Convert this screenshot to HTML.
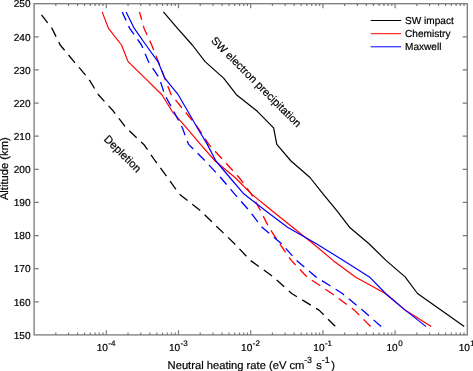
<!DOCTYPE html>
<html><head><meta charset="utf-8"><title>Neutral heating rate</title>
<style>html,body{margin:0;padding:0;background:#fff}svg{display:block}</style></head>
<body>
<svg width="473" height="371" viewBox="0 0 473 371" font-family="'Liberation Sans', sans-serif" fill="#000" stroke="#000" stroke-width="0.2" text-rendering="geometricPrecision">
<rect width="473" height="371" fill="#fff" stroke="none"/>
<path d="M55.83 334.9v-2.4M55.83 3.7v2.4M68.55 334.9v-2.4M68.55 3.7v2.4M77.57 334.9v-2.4M77.57 3.7v2.4M84.57 334.9v-2.4M84.57 3.7v2.4M90.28 334.9v-2.4M90.28 3.7v2.4M95.12 334.9v-2.4M95.12 3.7v2.4M99.30 334.9v-2.4M99.30 3.7v2.4M103.00 334.9v-2.4M103.00 3.7v2.4M106.30 334.9v-4.6M106.30 3.7v4.6M128.03 334.9v-2.4M128.03 3.7v2.4M140.75 334.9v-2.4M140.75 3.7v2.4M149.77 334.9v-2.4M149.77 3.7v2.4M156.77 334.9v-2.4M156.77 3.7v2.4M162.48 334.9v-2.4M162.48 3.7v2.4M167.32 334.9v-2.4M167.32 3.7v2.4M171.50 334.9v-2.4M171.50 3.7v2.4M175.20 334.9v-2.4M175.20 3.7v2.4M178.50 334.9v-4.6M178.50 3.7v4.6M200.23 334.9v-2.4M200.23 3.7v2.4M212.95 334.9v-2.4M212.95 3.7v2.4M221.97 334.9v-2.4M221.97 3.7v2.4M228.97 334.9v-2.4M228.97 3.7v2.4M234.68 334.9v-2.4M234.68 3.7v2.4M239.52 334.9v-2.4M239.52 3.7v2.4M243.70 334.9v-2.4M243.70 3.7v2.4M247.40 334.9v-2.4M247.40 3.7v2.4M250.70 334.9v-4.6M250.70 3.7v4.6M272.43 334.9v-2.4M272.43 3.7v2.4M285.15 334.9v-2.4M285.15 3.7v2.4M294.17 334.9v-2.4M294.17 3.7v2.4M301.17 334.9v-2.4M301.17 3.7v2.4M306.88 334.9v-2.4M306.88 3.7v2.4M311.72 334.9v-2.4M311.72 3.7v2.4M315.90 334.9v-2.4M315.90 3.7v2.4M319.60 334.9v-2.4M319.60 3.7v2.4M322.90 334.9v-4.6M322.90 3.7v4.6M344.63 334.9v-2.4M344.63 3.7v2.4M357.35 334.9v-2.4M357.35 3.7v2.4M366.37 334.9v-2.4M366.37 3.7v2.4M373.37 334.9v-2.4M373.37 3.7v2.4M379.08 334.9v-2.4M379.08 3.7v2.4M383.92 334.9v-2.4M383.92 3.7v2.4M388.10 334.9v-2.4M388.10 3.7v2.4M391.80 334.9v-2.4M391.80 3.7v2.4M395.10 334.9v-4.6M395.10 3.7v4.6M416.83 334.9v-2.4M416.83 3.7v2.4M429.55 334.9v-2.4M429.55 3.7v2.4M438.57 334.9v-2.4M438.57 3.7v2.4M445.57 334.9v-2.4M445.57 3.7v2.4M451.28 334.9v-2.4M451.28 3.7v2.4M456.12 334.9v-2.4M456.12 3.7v2.4M460.30 334.9v-2.4M460.30 3.7v2.4M464.00 334.9v-2.4M464.00 3.7v2.4M34.1 36.82h4.6M467.3 36.82h-4.6M34.1 69.94h4.6M467.3 69.94h-4.6M34.1 103.06h4.6M467.3 103.06h-4.6M34.1 136.18h4.6M467.3 136.18h-4.6M34.1 169.30h4.6M467.3 169.30h-4.6M34.1 202.42h4.6M467.3 202.42h-4.6M34.1 235.54h4.6M467.3 235.54h-4.6M34.1 268.66h4.6M467.3 268.66h-4.6M34.1 301.78h4.6M467.3 301.78h-4.6" stroke="#7a7a7a" stroke-width="1.2" fill="none"/>
<rect x="34.1" y="3.7" width="433.20" height="331.20" fill="none" stroke="#7a7a7a" stroke-width="1.3"/>
<g fill="none" stroke-linejoin="round">
<polyline points="41.5,14.9 52.0,28.4 60.2,45.0 74.0,61.6 88.2,78.1 98.4,94.7 113.5,111.3 126.0,127.8 143.8,144.4 155.3,161.0 167.5,177.5 179.4,194.1 200.4,210.7 217.4,227.2 234.6,243.8 250.4,260.4 273.3,276.9 291.7,293.5 319.0,310.1 335.5,326.6" stroke="#000" stroke-width="1.3" stroke-dasharray="10.1 6.14" stroke-dashoffset="0.1"/>
<polyline points="163.4,11.9 177.5,28.4 192.3,45.0 205.1,61.6 223.6,78.1 236.4,94.7 257.3,111.3 273.6,127.8 276.8,144.4 291.0,161.0 310.0,177.5 323.2,194.1 336.8,210.7 349.5,227.2 369.0,243.8 386.0,260.4 405.1,276.9 417.5,293.5 440.9,310.1 464.2,326.6" stroke="#000" stroke-width="1.2"/>
<polyline points="102.1,11.9 108.5,28.4 121.5,45.0 128.1,61.6 145.0,78.1 161.9,94.7 172.1,111.3 186.5,127.8 200.5,144.4 215.2,161.0 235.0,177.5 251.6,194.1 272.0,210.7 292.6,227.2 313.2,243.8 333.0,260.4 355.3,276.9 385.3,293.5 405.0,310.1 431.2,326.6" stroke="#f00" stroke-width="1.2"/>
<polyline points="139.5,11.9 144.1,28.4 151.7,45.0 158.3,61.6 164.6,78.1 171.2,94.7 184.8,111.3 198.0,127.8 208.8,144.4 224.0,161.0 239.1,177.5 251.3,194.1 260.5,210.7 268.8,227.2 279.7,243.8 291.2,260.4 307.0,276.9 331.8,293.5 354.3,310.1 370.6,326.6" stroke="#f00" stroke-width="1.3" stroke-dasharray="10.1 6.14" stroke-dashoffset="1.9"/>
<polyline points="126.1,11.9 134.3,28.4 145.9,45.0 157.9,61.6 164.8,78.1 178.2,94.7 187.8,111.3 197.3,127.8 207.3,144.4 215.9,161.0 229.8,177.5 244.0,194.1 265.6,210.7 287.5,227.2 316.4,243.8 343.4,260.4 369.4,276.9 385.6,293.5 405.3,310.1 426.1,326.6" stroke="#00f" stroke-width="1.2"/>
<polyline points="122.2,11.9 129.7,28.4 141.5,45.0 148.4,61.6 159.3,78.1 164.7,94.7 173.7,111.3 182.3,127.8 188.6,144.4 205.3,161.0 220.6,177.5 234.7,194.1 249.3,210.7 262.0,227.2 281.5,243.8 296.6,260.4 316.0,276.9 342.3,293.5 362.4,310.1 381.2,326.6" stroke="#00f" stroke-width="1.3" stroke-dasharray="10.1 6.14" stroke-dashoffset="0.8"/>
<path d="M370.8 20.5H401.1" stroke="#000" stroke-width="1"/>
<path d="M370.8 33.7H401.1" stroke="#f00" stroke-width="1"/>
<path d="M370.8 46.8H401.1" stroke="#00f" stroke-width="1"/>
</g>
<text x="405.0" y="24.0" font-size="10.1" text-anchor="start">SW impact</text>
<text x="405.0" y="37.2" font-size="10.1" text-anchor="start">Chemistry</text>
<text x="405.0" y="50.3" font-size="10.1" text-anchor="start">Maxwell</text>
<text x="30.6" y="7.4" font-size="10.1" text-anchor="end">250</text>
<text x="30.6" y="40.5" font-size="10.1" text-anchor="end">240</text>
<text x="30.6" y="73.6" font-size="10.1" text-anchor="end">230</text>
<text x="30.6" y="106.8" font-size="10.1" text-anchor="end">220</text>
<text x="30.6" y="139.9" font-size="10.1" text-anchor="end">210</text>
<text x="30.6" y="173.0" font-size="10.1" text-anchor="end">200</text>
<text x="30.6" y="206.1" font-size="10.1" text-anchor="end">190</text>
<text x="30.6" y="239.2" font-size="10.1" text-anchor="end">180</text>
<text x="30.6" y="272.4" font-size="10.1" text-anchor="end">170</text>
<text x="30.6" y="305.5" font-size="10.1" text-anchor="end">160</text>
<text x="30.6" y="338.6" font-size="10.1" text-anchor="end">150</text>
<text x="96.7" y="351.4" font-size="10.1" text-anchor="start">10<tspan font-size="8" dy="-5.5" dx="0.4">-4</tspan></text>
<text x="168.9" y="351.4" font-size="10.1" text-anchor="start">10<tspan font-size="8" dy="-5.5" dx="0.4">-3</tspan></text>
<text x="241.1" y="351.4" font-size="10.1" text-anchor="start">10<tspan font-size="8" dy="-5.5" dx="0.4">-2</tspan></text>
<text x="313.3" y="351.4" font-size="10.1" text-anchor="start">10<tspan font-size="8" dy="-5.5" dx="0.4">-1</tspan></text>
<text x="386.5" y="351.4" font-size="10.1" text-anchor="start">10<tspan font-size="8" dy="-5.5" dx="0.4">0</tspan></text>
<text x="458.7" y="351.4" font-size="10.1" text-anchor="start">10<tspan font-size="8" dy="-5.5" dx="0.4">1</tspan></text>
<text x="167.6" y="368.6" font-size="11.2" text-anchor="start">Neutral heating rate (eV cm<tspan font-size="8.8" x="304.2" dy="-5.5">-3</tspan><tspan x="316.2" dy="5.5">s</tspan><tspan font-size="8.8" x="321.8" dy="-5.5">-1</tspan><tspan x="331.2" dy="5.5">)</tspan></text>
<text font-size="11.2" transform="translate(8.1 168.7) rotate(-90)" text-anchor="middle">Altitude (km)</text>
<text font-size="11" transform="translate(210.4 41.3) rotate(45)">SW electron precipitation</text>
<text font-size="11.2" transform="translate(103.3 139.7) rotate(45)">Depletion</text>
</svg>
</body></html>
